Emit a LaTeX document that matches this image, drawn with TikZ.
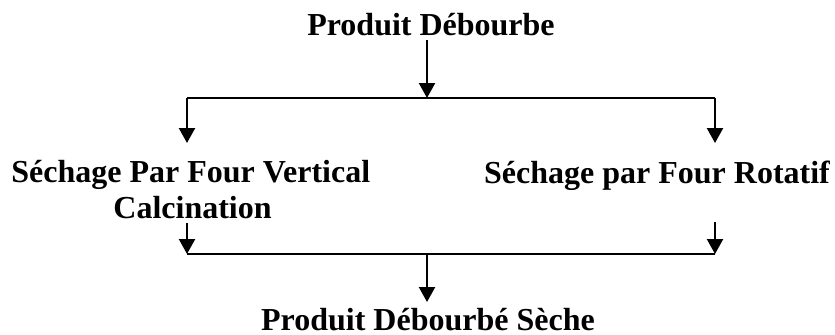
\documentclass[tikz,border=0pt]{standalone}
\usepackage{fontspec}
\setmainfont{Liberation Serif}
\usetikzlibrary{arrows.meta}

\begin{document}
\begin{tikzpicture}[x=0.5pt,y=-0.5pt,
        lbl/.style={font=\bfseries\fontsize{16}{18}\selectfont, inner sep=0pt, anchor=base},
        bar/.style={line width=1.1pt},
        flow/.style={bar, -{Triangle[length=7.5pt,width=8pt]}}]
        \useasboundingbox (0,0) rectangle (835,334);
        % products and the two dryers
        \node[lbl] (brut) at (431,35) {Produit Débourbe};
        \node[lbl, anchor=base west, align=left] (vert) at (11,218) {Séchage Par Four Vertical\\\hspace*{51pt}Calcination};
        \node[lbl] (rot) at (657,183) {Séchage par Four Rotatif};
        \node[lbl] (sec) at (428,330) {Produit Débourbé Sèche};
        % junctions
        \coordinate (stem) at (427,40);
        \coordinate (jtop) at (427,98);
        \coordinate (jl) at (187,98);
        \coordinate (jr) at (715,98);
        \coordinate (inl) at (187,143);
        \coordinate (inr) at (715,143);
        \coordinate (outl) at (187,223);
        \coordinate (outr) at (715,222);
        \coordinate (bl) at (187,254);
        \coordinate (br) at (715,254);
        \coordinate (jbot) at (427,254);
        \coordinate (fin) at (427,302);
        % split
        \draw[flow] (stem) -- (jtop);
        \draw[bar] (jl) -- (jr);
        \draw[flow] (jl) -- (inl);
        \draw[flow] (jr) -- (inr);
        % merge
        \draw[flow] (outl) -- (bl);
        \draw[flow] (outr) -- (br);
        \draw[bar] (bl) -- (br);
        \draw[flow] (jbot) -- (fin);
\end{tikzpicture}
\end{document}
